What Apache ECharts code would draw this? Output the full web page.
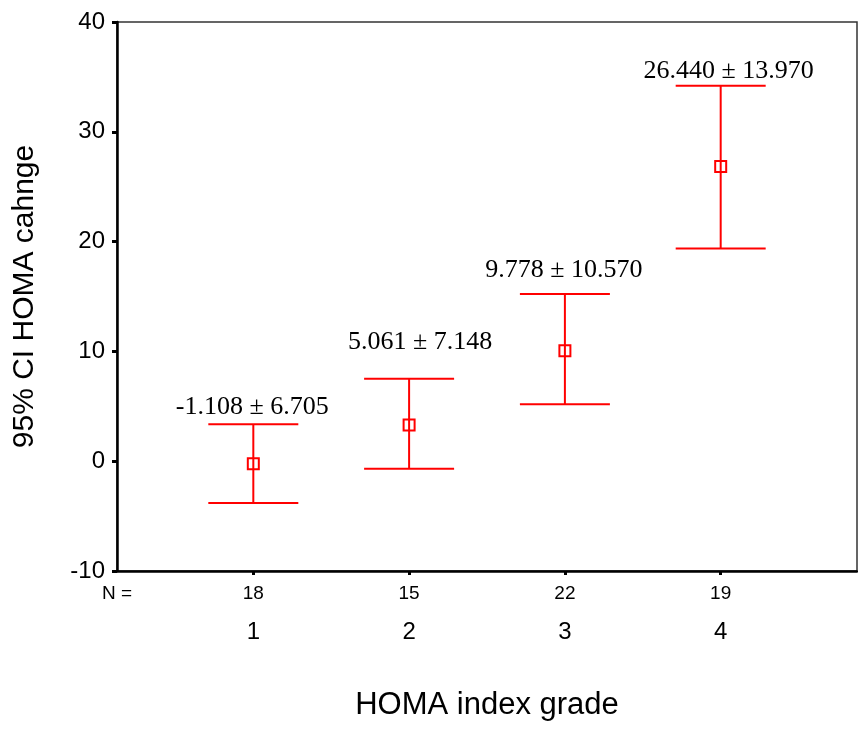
<!DOCTYPE html>
<html>
<head>
<meta charset="utf-8">
<script src="https://cdn.jsdelivr.net/npm/echarts@6/dist/echarts.min.js"></script>
<style>
  html, body { margin: 0; padding: 0; background: #fff; }
  #chart { width: 858px; height: 731px; }
</style>
</head>
<body>
<div id="chart"></div>
<script>
// HOMA grades and the 95% CI of the change for each
const grades = [1, 2, 3, 4];
const nCounts = [18, 15, 22, 19];
const means = [-0.24, 3.30, 10.07, 26.83];
const upper = [3.36, 7.52, 15.22, 34.20];
const lower = [-3.80, -0.69, 5.18, 19.38];
const barTexts = ['-1.108 \u00b1 6.705', '5.061 \u00b1 7.148', '9.778 \u00b1 10.570', '26.440 \u00b1 13.970'];
const yTicks = [-10, 0, 10, 20, 30, 40];

// offsets of the annotations from the upper cap (px)
const labelNudge = [[-1, -17], [11, -36], [-1, -24], [8, -15]];

const RED = '#ff0000';
const sans = 'Arial, "Liberation Sans", sans-serif';
const serif = '"Times New Roman", "Liberation Serif", serif';

let chart = echarts.init(document.getElementById('chart'));

let errData = grades.map((g, i) => [g, means[i], lower[i], upper[i]]);

let renderBar = (params, api) => {
    let i = params.dataIndex;
    let x = api.value(0);
    let pMean = api.coord([x, api.value(1)]);
    let pLo = api.coord([x, api.value(2)]);
    let pHi = api.coord([x, api.value(3)]);
    let half = 45, box = 11;
    let line = {stroke: RED, lineWidth: 2, fill: null};
    return {
        type: 'group',
        children: [
            {type: 'line', shape: {x1: pLo[0], y1: pLo[1], x2: pHi[0], y2: pHi[1]}, style: line},
            {type: 'line', shape: {x1: pHi[0] - half, y1: pHi[1], x2: pHi[0] + half, y2: pHi[1]}, style: line},
            {type: 'line', shape: {x1: pLo[0] - half, y1: pLo[1], x2: pLo[0] + half, y2: pLo[1]}, style: line},
            {type: 'rect', shape: {x: pMean[0] - box / 2, y: pMean[1] - box / 2, width: box, height: box},
             style: {stroke: RED, lineWidth: 2, fill: 'rgba(0,0,0,0)'}},
            {type: 'text', x: pHi[0] + labelNudge[i][0], y: pHi[1] + labelNudge[i][1],
             style: {text: barTexts[i], fill: '#000', font: '26px ' + serif, align: 'center', verticalAlign: 'middle'}}
        ]
    };
};

let options = {
    backgroundColor: '#fff',
    animation: false,
    grid: {
        left: 117, right: 1, top: 22, bottom: 160,
        show: true, borderColor: '#333', borderWidth: 1.5
    },
    xAxis: {
        type: 'value',
        min: 0.125, max: 4.875,
        name: 'HOMA index grade',
        nameLocation: 'middle',
        nameGap: 119,
        nameTextStyle: {fontSize: 31, fontFamily: sans, color: '#000'},
        splitLine: {show: false},
        axisLine: {show: true, onZero: false, lineStyle: {color: '#000', width: 2.5}},
        axisTick: {show: true, customValues: grades, length: 4, lineStyle: {color: '#000', width: 3}},
        axisLabel: {
            customValues: [0.125].concat(grades),
            margin: 13,
            color: '#000',
            fontFamily: sans,
            formatter: v => {
                if (v < 1) return '{n|N =}';
                let i = grades.indexOf(v);
                return '{n|' + nCounts[i] + '}\n{g|' + grades[i] + '}';
            },
            rich: {
                n: {fontSize: 19, lineHeight: 20, fontFamily: sans, color: '#000'},
                g: {fontSize: 24, lineHeight: 56, fontFamily: sans, color: '#000'}
            }
        }
    },
    yAxis: {
        type: 'value',
        min: yTicks[0], max: yTicks[yTicks.length - 1], interval: 10,
        name: '95% CI HOMA cahnge',
        nameLocation: 'middle',
        nameRotate: 90,
        nameGap: 77,
        nameTextStyle: {fontSize: 30, fontFamily: sans, color: '#000'},
        splitLine: {show: false},
        axisLine: {show: true, onZero: false, lineStyle: {color: '#000', width: 2.5}},
        axisTick: {show: true, length: 5, lineStyle: {color: '#000', width: 3}},
        axisLabel: {fontSize: 24, fontFamily: sans, color: '#000', margin: 12}
    },
    series: [{
        type: 'custom',
        renderItem: renderBar,
        data: errData,
        clip: false,
        silent: true
    }]
};

chart.setOption(options);
</script>
</body>
</html>
